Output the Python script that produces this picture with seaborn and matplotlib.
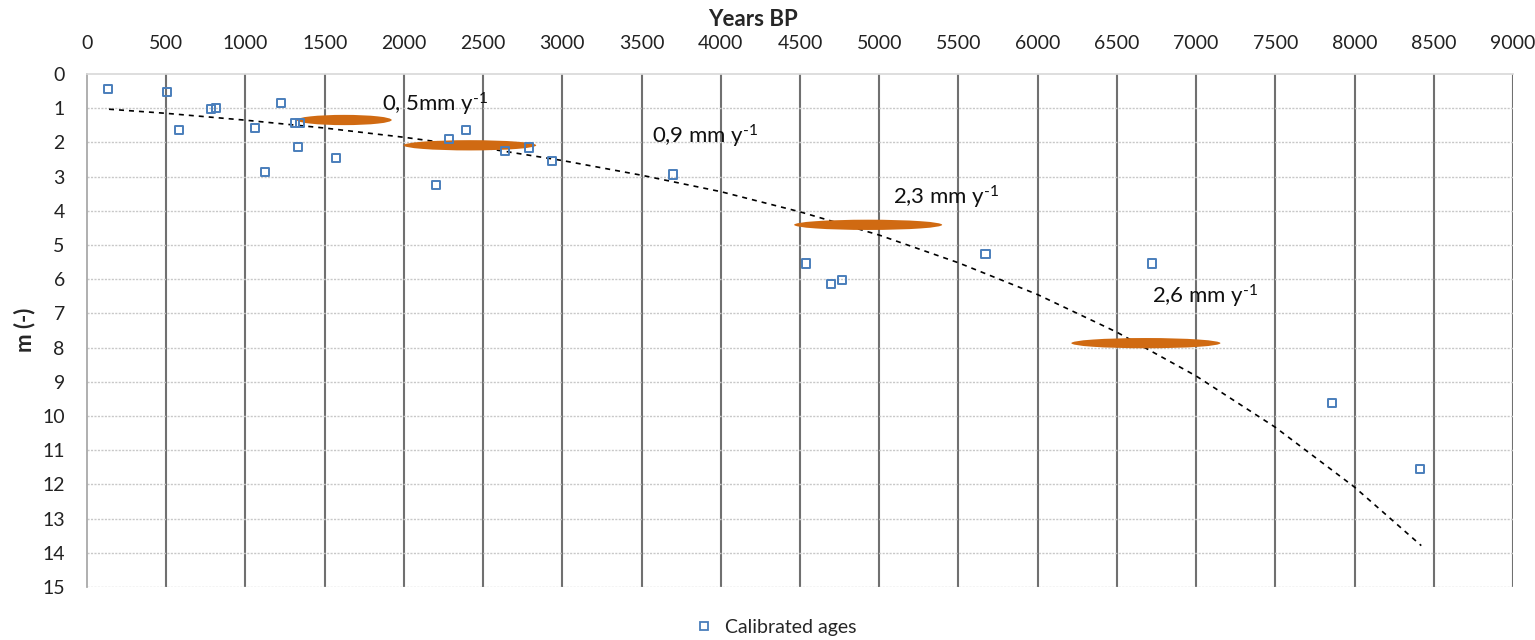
import numpy as np
import pandas as pd
import matplotlib
matplotlib.use("Agg")
import matplotlib.pyplot as plt
import seaborn as sns
from matplotlib.patches import Ellipse
from matplotlib.lines import Line2D

# ---------------- data ----------------
ages = [135, 503, 579, 781, 814, 1063, 1124, 1227, 1313, 1332, 1346, 1570,
        2201, 2287, 2393, 2639, 2788, 2936, 3697, 4539, 4697, 4766, 5671,
        6721, 7860, 8411]
depths = [0.44, 0.52, 1.65, 1.03, 1.00, 1.57, 2.87, 0.84, 1.44, 2.13, 1.44,
          2.46, 3.24, 1.91, 1.65, 2.26, 2.15, 2.54, 2.94, 5.54, 6.15, 6.02,
          5.25, 5.54, 9.63, 11.54]

trend_ages = [139, 500, 1000, 1500, 2000, 2500, 3000, 3500, 4000, 4500, 5000,
              5500, 6000, 6500, 7000, 7500, 8000, 8421]
trend_depths = [1.03, 1.15, 1.35, 1.58, 1.85, 2.16, 2.53, 2.96, 3.44, 4.03,
                4.71, 5.52, 6.45, 7.55, 8.83, 10.33, 12.08, 13.79]

# accumulation-rate annotations
rate_labels = ["0, 5mm y$^{\\text{-1}}$", "0,9 mm y$^{\\text{-1}}$",
               "2,3 mm y$^{\\text{-1}}$", "2,6 mm y$^{\\text{-1}}$"]
rate_label_age = [1860, 3565, 5090, 6721]
rate_label_depth = [0.88, 1.81, 3.60, 6.49]
band_age = [1623, 2416, 4930, 6683]
band_depth = [1.345, 2.085, 4.41, 7.87]
band_span = [600, 838, 934, 941]

x_ticks = list(range(0, 9001, 500))
y_ticks = list(range(0, 16))

# ---------------- style ----------------
sns.set_theme(style="white")
plt.rcParams['font.family'] = ['Lato', 'DejaVu Sans']
plt.rcParams['mathtext.fontset'] = 'custom'
plt.rcParams['mathtext.rm'] = 'Lato'
plt.rcParams['mathtext.it'] = 'Lato:italic'
plt.rcParams['mathtext.bf'] = 'Lato:bold'

fig = plt.figure(figsize=(15.35, 6.4), dpi=100)
ax = fig.add_axes([87 / 1535, 1 - 587 / 640, (1513 - 87) / 1535, (587 - 74) / 640])

pts = pd.DataFrame({"age": ages, "depth": depths})
trend = pd.DataFrame({"age": trend_ages, "depth": trend_depths})

# gridlines
ax.set_xlim(0, 9000)
ax.set_ylim(15, 0)
ax.set_xticks(x_ticks)
ax.set_yticks(y_ticks)
ax.xaxis.tick_top()
for t in x_ticks[1:]:
    ax.axvline(t, color="#707070", lw=1.5, zorder=1)
for t in y_ticks[1:]:
    ax.axhline(t, color="#c8c8c8", lw=1.0, ls=(0, (1.5, 1)), zorder=1)

sns.lineplot(data=trend, x="age", y="depth", ax=ax, color="black", lw=1.2,
             linestyle=(0, (3, 3)), sort=False, zorder=3)

for a, d, w in zip(band_age, band_depth, band_span):
    ax.add_patch(Ellipse((a, d), width=w, height=0.3, facecolor="#d06a12",
                         edgecolor="none", zorder=4))

sns.scatterplot(data=pts, x="age", y="depth", ax=ax, marker="s", s=34,
                facecolor="none", edgecolor="#4a7ebb", linewidth=1.4, zorder=5)

for lab, a, d in zip(rate_labels, rate_label_age, rate_label_depth):
    ax.text(a, d, lab, fontsize=16, ha="left", va="center", color="#111111",
            zorder=6)

ax.spines["top"].set_visible(True)
ax.spines["left"].set_visible(True)
ax.spines["top"].set_color("#d9d9d9")
ax.spines["left"].set_color("#a6a6a6")
ax.spines["right"].set_visible(False)
ax.spines["bottom"].set_visible(False)
ax.tick_params(axis="both", length=0, labelsize=14, colors="#222222")
ax.tick_params(axis="x", pad=16)
ax.tick_params(axis="y", pad=16)
ax.set_xlabel("")
ax.set_ylabel("")

fig.text(753 / 1535, 1 - 19 / 640, "Years BP", fontsize=16, fontweight="bold",
         ha="center", va="center")
fig.text(25 / 1535, 1 - 330 / 640, "m (-)", fontsize=16, fontweight="bold",
         ha="center", va="center", rotation=90)

handle = Line2D([], [], marker="s", ls="none", markerfacecolor="none",
                markeredgecolor="#4a7ebb", markeredgewidth=1.3, markersize=6)
fig.legend([handle], ["Calibrated ages"], loc="center",
           bbox_to_anchor=(0.505, 1 - 627 / 640), frameon=False, fontsize=14,
           handlelength=1.0, handletextpad=0.6)

fig.savefig("out.png", dpi=100)
